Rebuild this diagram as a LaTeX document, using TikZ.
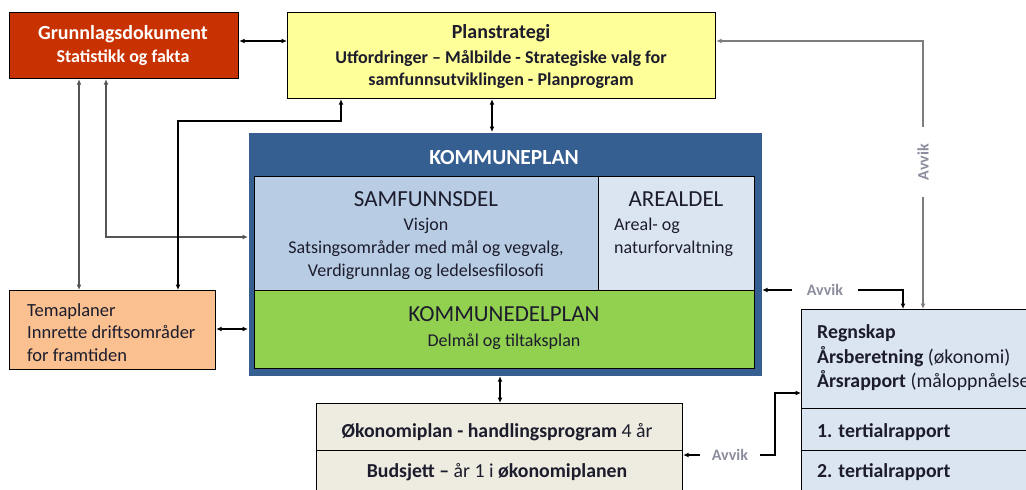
\documentclass[tikz,border=0pt]{standalone}
\usepackage{fontspec}
\setmainfont{Carlito}
\usetikzlibrary{arrows.meta}
\definecolor{grred}{HTML}{C83200}
\definecolor{plyellow}{HTML}{FFFF99}
\definecolor{kpblue}{HTML}{365F91}
\definecolor{sfblue}{HTML}{B8CCE4}
\definecolor{arblue}{HTML}{DBE5F1}
\definecolor{kdgreen}{HTML}{92D050}
\definecolor{tmorange}{HTML}{FAC090}
\definecolor{okbeige}{HTML}{EEECE1}
\definecolor{avgray}{RGB}{140,142,158}
\definecolor{txt}{HTML}{1C1C2C}
\definecolor{lngray}{RGB}{125,125,125}
\definecolor{dkgray}{RGB}{85,85,85}
\begin{document}
\begin{tikzpicture}[x=1pt,y=-1pt,
  box/.style={draw=black, line width=1.2pt, inner sep=0pt, anchor=north west},
  conn/.style={line width=1.2pt, draw=black, {Latex[length=5.5pt,width=5pt]}-{Latex[length=5.5pt,width=5pt]}},
  gconn/.style={line width=1.8pt, draw=dkgray, {Latex[length=5.5pt,width=5pt]}-{Latex[length=5.5pt,width=5pt]}},
  oneway/.style={line width=1.2pt, draw=black, -{Latex[length=5.5pt,width=5pt]}},
  gone/.style={line width=1.8pt, draw=lngray, -{Latex[length=5.5pt,width=5pt]}},
  ttl/.style={inner sep=0pt, text=txt, font=\fontsize{20}{24}\selectfont\bfseries},
  sub/.style={inner sep=0pt, text=txt, font=\fontsize{18}{22}\selectfont\bfseries},
  big/.style={inner sep=0pt, text=txt, font=\fontsize{23}{27}\selectfont},
  reg/.style={inner sep=0pt, text=txt, font=\fontsize{18}{22}\selectfont},
  rep/.style={inner sep=0pt, text=txt, font=\fontsize{19.8}{24}\selectfont\bfseries},
  avvik/.style={inner ysep=2pt, text=avgray, fill=white, font=\fontsize{16}{19}\selectfont\bfseries}
]
\useasboundingbox (0,0) rectangle (1026,490);
\clip (0,0) rectangle (1026,490);
\fill[white] (0,0) rectangle (1026,490);

% boxes
\node[box, fill=grred, minimum width=229pt, minimum height=66pt] (gd) at (9,12) {};
\node[box, fill=plyellow, minimum width=428pt, minimum height=86pt] (ps) at (287,12) {};
\node[box, draw=none, fill=kpblue, minimum width=513pt, minimum height=243pt] (kp) at (248,132) {};
\node[box, fill=sfblue, minimum width=344pt, minimum height=114pt] (sf) at (254,176) {};
\node[box, fill=arblue, minimum width=156pt, minimum height=114pt] (ar) at (598,176) {};
\node[box, fill=kdgreen, minimum width=500pt, minimum height=78pt] (kd) at (254,290) {};
\node[box, fill=tmorange, minimum width=206pt, minimum height=79pt] (tm) at (9,290) {};
\node[box, fill=okbeige, minimum width=366pt, minimum height=47pt] (ok) at (316,403) {};
\node[box, fill=okbeige, minimum width=366pt, minimum height=60pt] (bd) at (316,450) {};
\node[box, fill=arblue, minimum width=240pt, minimum height=99pt] (rg) at (801,309) {};
\node[box, fill=arblue, minimum width=240pt, minimum height=42pt] (t1) at (801,408) {};
\node[box, fill=arblue, minimum width=240pt, minimum height=60pt] (t2) at (801,450) {};

% texts
\node[ttl, text=white, anchor=base] (gd1) at (123,39) {Grunnlagsdokument};
\node[sub, text=white, anchor=base] (gd2) at (123,62) {Statistikk og fakta};

\node[ttl, anchor=base] (ps1) at (501,38) {Planstrategi};
\node[sub, anchor=base] (ps2) at (501,63) {Utfordringer – Målbilde - Strategiske valg for};
\node[sub, anchor=base] (ps3) at (501,85) {samfunnsutviklingen - Planprogram};

\node[inner sep=0pt, text=white, font=\fontsize{21.5}{26}\selectfont\bfseries, anchor=base] (kp1) at (504,164) {KOMMUNEPLAN};

\node[big, anchor=base] (sf1) at (426,206) {SAMFUNNSDEL};
\node[reg, anchor=base] (sf2) at (426,230) {Visjon};
\node[reg, anchor=base] (sf3) at (426,253) {Satsingsområder med mål og vegvalg,};
\node[reg, anchor=base] (sf4) at (426,276) {Verdigrunnlag og ledelsesfilosofi};

\node[big, anchor=base] (ar1) at (676,206) {AREALDEL};
\node[reg, anchor=base west] (ar2) at (614,230) {Areal- og};
\node[reg, anchor=base west] (ar3) at (614,253) {naturforvaltning};

\node[big, anchor=base] (kd1) at (504,321) {KOMMUNEDELPLAN};
\node[reg, anchor=base] (kd2) at (504,346) {Delmål og tiltaksplan};

\node[reg, font=\fontsize{18.5}{22}\selectfont, anchor=base west] (tm1) at (27,316) {Temaplaner};
\node[reg, font=\fontsize{18.5}{22}\selectfont, anchor=base west] (tm2) at (27,338) {Innrette driftsområder};
\node[reg, font=\fontsize{18.5}{22}\selectfont, anchor=base west] (tm3) at (27,361) {for framtiden};

\node[rep, anchor=base] (ok1) at (497,437) {Økonomiplan - handlingsprogram\mdseries{} 4 år};
\node[rep, anchor=base] (bd1) at (497,477) {Budsjett – \mdseries år 1 i \bfseries økonomiplanen};

\node[rep, anchor=base west] (rg1) at (817,338) {Regnskap};
\node[rep, anchor=base west] (rg2) at (817,363) {Årsberetning \mdseries(økonomi)};
\node[rep, anchor=base west] (rg3) at (817,387) {Årsrapport \mdseries(måloppnåelse)};
\node[rep, anchor=base west] (t1a) at (817,437) {1. tertialrapport};
\node[rep, anchor=base west] (t2a) at (817,477) {2. tertialrapport};

% guide coordinates
\coordinate (c79) at (79,0);
\coordinate (c106) at (106,0);
\coordinate (c178) at (178,0);
\coordinate (c341) at (341,0);
\coordinate (c492) at (492,0);
\coordinate (c500) at (500,0);
\coordinate (c903) at (903,0);
\coordinate (c923) at (923,0);
\coordinate (c775) at (775,0);
\coordinate (r41) at (0,41);
\coordinate (r121) at (0,121);
\coordinate (r237) at (0,237);
\coordinate (r290) at (0,290);
\coordinate (r329) at (0,329);
\coordinate (r393) at (0,393);
\coordinate (r455) at (0,455);

% Avvik labels
\node[avvik, inner xsep=17pt, rotate=90] (av1) at (923,162) {Avvik};
\node[avvik, inner xsep=14.5pt] (av2) at (825,290) {Avvik};
\node[avvik, inner xsep=12pt] (av3) at (730,455) {Avvik};

% connectors
\draw[conn] (gd.east |- r41) -- (ps.west |- r41);
\draw[gconn] (gd.south -| c79) -- (tm.north -| c79);
\draw[gconn] (gd.south -| c106) |- (kp.west |- r237);
\draw[conn] (tm.north -| c178) |- (c341 |- r121) -- (ps.south -| c341);
\draw[conn] (ps.south -| c492) -- (kp.north -| c492);
\draw[conn] (tm.east |- r329) -- (kp.west |- r329);
\draw[conn] (kp.south -| c500) -- (ok.north -| c500);

\draw[gone] (av1.east) |- (ps.east |- r41);
\draw[gone] (av1.west) -- (rg.north -| c923);
\draw[oneway] (av2.west) -- (kp.east |- r290);
\draw[oneway] (av2.east) -| (rg.north -| c903);
\draw[oneway] (av3.west) -- (bd.east |- r455);
\draw[oneway] (av3.east) -| (c775 |- r393) -- (rg.west |- r393);
\end{tikzpicture}
\end{document}
